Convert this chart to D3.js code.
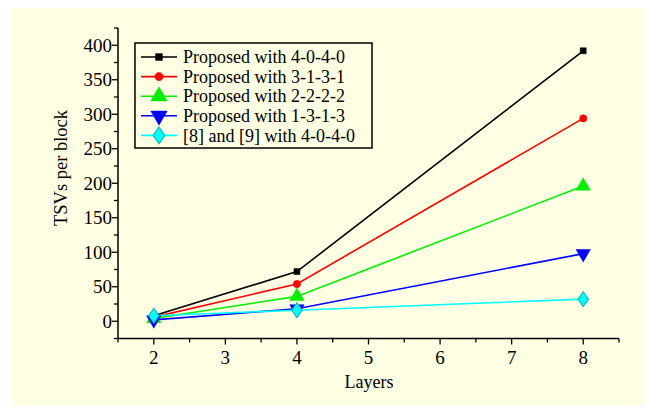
<!DOCTYPE html>
<html lang="en">
<head>
<meta charset="UTF-8">
<title>TSVs per block</title>
<script src="https://cdn.jsdelivr.net/npm/d3@7"></script>
<style>
  body { margin: 0; background: #fff; }
</style>
</head>
<body>
<div id="chart"></div>
<script>
// data
const layers = [2, 4, 8]
const seriesNames = [
  'Proposed with 4-0-4-0',
  'Proposed with 3-1-3-1',
  'Proposed with 2-2-2-2',
  'Proposed with 1-3-1-3',
  '[8] and [9] with 4-0-4-0'
]
const s4040 = [8, 72, 392]
const s3131 = [6, 54, 294]
const s2222 = [4, 36, 196]
const s1313 = [2, 18, 98]
const ref4040 = [8, 16, 32]
const xTicks = [2, 3, 4, 5, 6, 7, 8]
const yTicks = [0, 50, 100, 150, 200, 250, 300, 350, 400]

const colors = ['#000000', '#ff0000', '#00ee00', '#0000ff', '#00ffff']
const symbols = [d3.symbolSquare, d3.symbolCircle, d3.symbolTriangle, d3.symbolTriangle, d3.symbolDiamond]
const symSizes = [36, 42, 90, 90, 70]
const allSeries = [s4040, s3131, s2222, s1313, ref4040]
const FONT = '"Liberation Serif", "Times New Roman", serif'

const W = 651, H = 410
const svg = d3.select('#chart').append('svg').attr('width', W).attr('height', H)
  .attr('font-family', FONT)

// yellow panel
svg.append('rect').attr('x', 12).attr('y', 8).attr('width', 633).attr('height', 397).attr('fill', '#ffffe3')

const x = d3.scaleLinear().domain([1.5, 8.5]).range([118, 619])
const y = d3.scaleLinear().domain([-25, 425]).range([338.5, 28])

// x axis
const gx = svg.append('g').attr('transform', `translate(0,${y(-25)})`)
gx.append('path').attr('d', `M${x(1.5)},0H${x(8.5)}`).attr('stroke', '#000').attr('stroke-width', 1.5)
d3.range(1.5, 8.51, 0.5).forEach(v => {
  const major = Number.isInteger(v) && v >= 2
  gx.append('line').attr('x1', x(v)).attr('x2', x(v)).attr('y1', 0).attr('y2', major ? 6 : 4)
    .attr('stroke', '#000').attr('stroke-width', 1.3)
})
gx.selectAll('text.tick').data(xTicks).join('text')
  .attr('x', d => x(d)).attr('y', 25).attr('text-anchor', 'middle')
  .attr('font-size', 19).text(d => d)

// y axis
const gy = svg.append('g').attr('transform', `translate(${x(1.5)},0)`)
gy.append('path').attr('d', `M0,${y(-25)}V${y(425)}`).attr('stroke', '#000').attr('stroke-width', 1.5)
d3.range(-25, 426, 25).forEach(v => {
  const major = v % 50 === 0
  gy.append('line').attr('x1', 0).attr('x2', major ? -6 : -4).attr('y1', y(v)).attr('y2', y(v))
    .attr('stroke', '#000').attr('stroke-width', 1.3)
})
gy.selectAll('text.tick').data(yTicks).join('text')
  .attr('x', -6).attr('y', d => y(d)).attr('dy', '0.34em').attr('text-anchor', 'end')
  .attr('font-size', 19).text(d => d)

// axis titles
svg.append('text').attr('x', 369).attr('y', 388).attr('text-anchor', 'middle')
  .attr('font-size', 18).text('Layers')
svg.append('text').attr('transform', 'translate(67,168) rotate(-90)').attr('text-anchor', 'middle')
  .attr('font-size', 18.5).text('TSVs per block')

// lines + markers
const line = d3.line().x((d, i) => x(layers[i])).y(d => y(d))
allSeries.forEach((s, k) => {
  svg.append('path').datum(s).attr('d', line).attr('fill', 'none')
    .attr('stroke', colors[k]).attr('stroke-width', 1.6)
})
const marker = (sel, k, scale) => sel
  .attr('d', d3.symbol().type(symbols[k]).size(symSizes[k] * scale))
  .attr('fill', colors[k])
  .attr('stroke', k === 4 ? '#00bcbc' : colors[k]).attr('stroke-width', k === 4 ? 1 : 0.5)
allSeries.forEach((s, k) => {
  svg.append('g').selectAll('path').data(s).join('path')
    .call(marker, k, 1)
    .attr('transform', (d, i) => `translate(${x(layers[i])},${y(d)})` + (k === 3 ? ' rotate(180)' : k === 4 ? ' scale(1.15,0.95)' : ''))
})

// legend
const lg = svg.append('g').attr('transform', 'translate(135,43)')
lg.append('rect').attr('width', 237).attr('height', 105).attr('fill', 'none')
  .attr('stroke', '#000').attr('stroke-width', 1.5)
seriesNames.forEach((name, k) => {
  const cy = 14 + k * 19.6
  lg.append('line').attr('x1', 6).attr('x2', 42).attr('y1', cy).attr('y2', cy)
    .attr('stroke', colors[k]).attr('stroke-width', 1.6)
  lg.append('path').call(marker, k, 1.3)
    .attr('transform', `translate(24,${cy})` + (k === 3 ? ' rotate(180)' : k === 4 ? ' scale(1.15,0.95)' : ''))
  lg.append('text').attr('x', 48).attr('y', cy).attr('dy', '0.34em')
    .attr('font-size', 18).text(name)
})
</script>
</body>
</html>
